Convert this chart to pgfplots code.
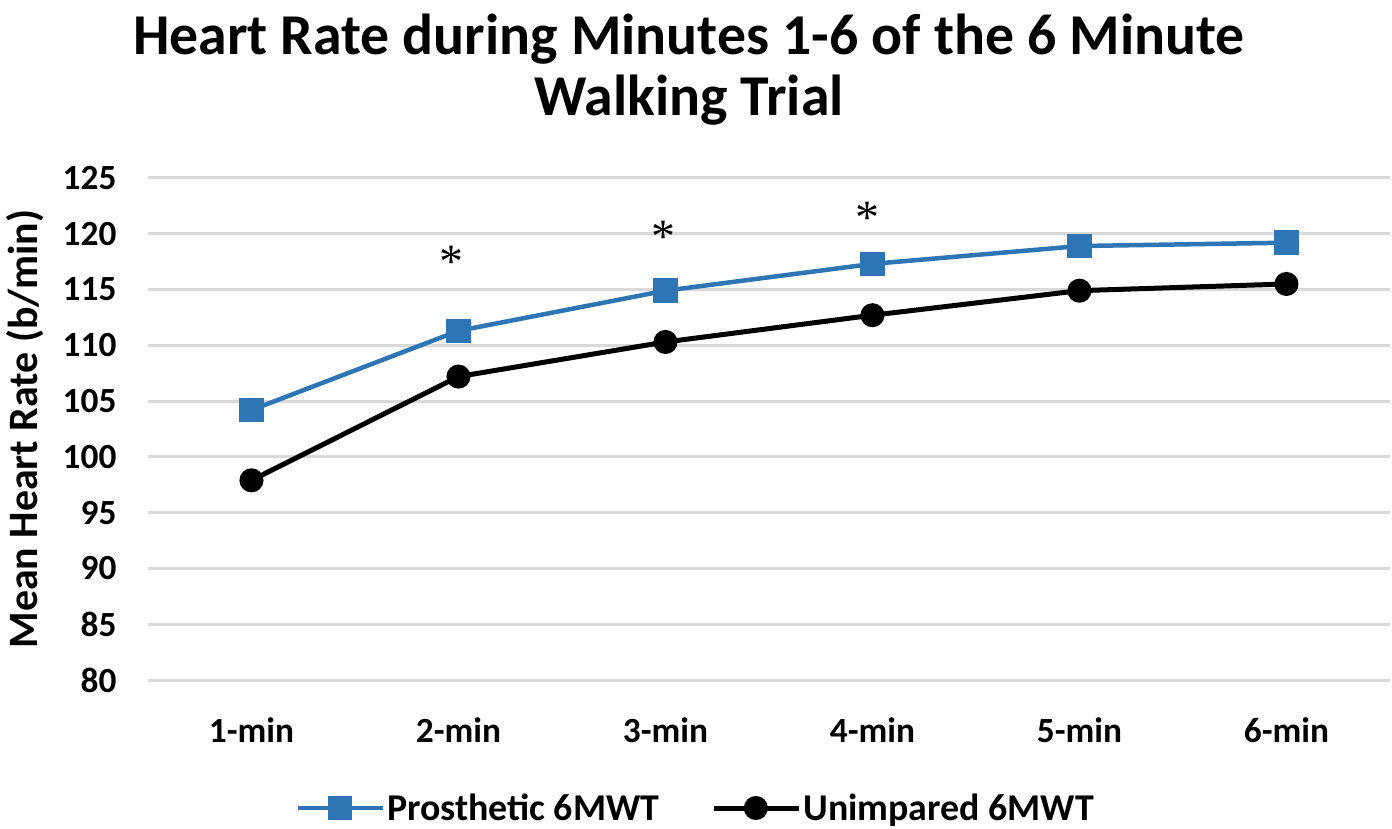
\documentclass[border=0pt]{standalone}
\usepackage{fontspec}
\setmainfont{Carlito}
\newfontfamily\astfont{Liberation Serif}
\usepackage{pgfplots}
\pgfplotsset{compat=1.18}
\definecolor{pblue}{RGB}{46,117,182}
\definecolor{gridgray}{RGB}{217,217,217}
\begin{document}
\begin{tikzpicture}[x=1bp,y=1bp]
\path[use as bounding box] (0,0) rectangle (1392,828);
\node[font=\bfseries\fontsize{58}{61}\selectfont, align=center, anchor=center] at (689,758)
  {Heart Rate during Minutes 1-6 of the 6 Minute\\Walking Trial};
\begin{axis}[
  at={(148bp,148bp)}, anchor=south west,
  width=1242bp, height=502bp, scale only axis,
  xmin=0.5, xmax=6.5, ymin=80, ymax=125,
  xtick={1,2,3,4,5,6},
  xticklabels={1-min,2-min,3-min,4-min,5-min,6-min},
  ytick={80,85,...,125},
  axis line style={draw=none},
  major tick style={draw=none},
  ymajorgrids,
  grid style={gridgray, line width=3bp},
  /pgf/number format/assume math mode=true,
  tick label style={font=\bfseries\fontsize{35.5}{40}\selectfont},
  xticklabel style={anchor=center, yshift=-50bp+0pt},
  yticklabel style={anchor=east, xshift=-28bp},
  every axis y label/.style={at={(rel axis cs:0,0.5)}, xshift=-123bp, rotate=90, anchor=center, font=\bfseries\fontsize{42}{46}\selectfont},
  ylabel={Mean Heart Rate (b/min)},
  legend style={at={(rel axis cs:0.441,-0.255)}, anchor=center, draw=none, fill=none,
    legend columns=2, font=\bfseries\fontsize{38}{42}\selectfont,
    /tikz/every even column/.append style={column sep=50bp}},
  legend cell align=left,
  legend image code/.code={\draw[#1, mark repeat=2, mark phase=2] plot coordinates {(0bp,0bp) (42bp,0bp) (85bp,0bp)};},
  clip=false,
]
\addplot[color=pblue, line width=4.5bp, mark=square*, mark size=10bp, mark options={solid}]
  coordinates {(1,104.2) (2,111.3) (3,114.9) (4,117.3) (5,118.9) (6,119.2)};
\addlegendentry{Prosthetic 6MWT}
\addplot[color=black, line width=5bp, mark=*, mark size=9.5bp]
  coordinates {(1,97.9) (2,107.2) (3,110.3) (4,112.7) (5,114.9) (6,115.5)};
\addlegendentry{Unimpared 6MWT}
\addplot[draw=none, mark=none, nodes near coords={\astfont *}, point meta=explicit symbolic,
  every node near coord/.style={anchor=center, font=\fontsize{48}{48}\selectfont, yshift=-10bp}, forget plot]
  coordinates {(1.966,118.4) [*] (2.99,120.6) [*] (3.976,122.3) [*]};
\end{axis}
\end{tikzpicture}
\end{document}
